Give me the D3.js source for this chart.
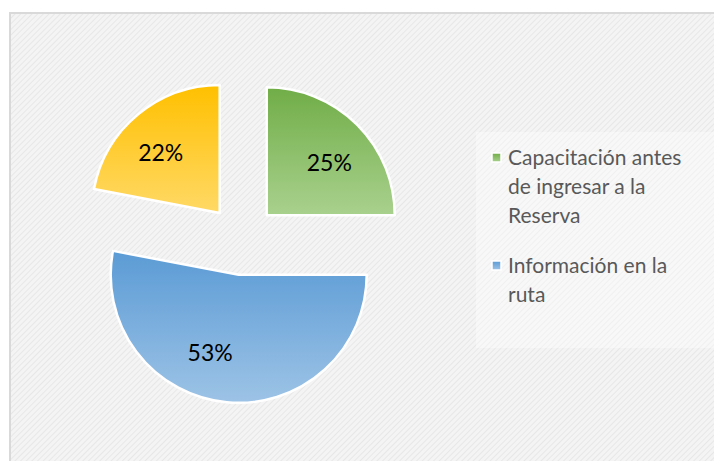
<!DOCTYPE html>
<html lang="es">
<head>
<meta charset="UTF-8">
<title>Pie chart</title>
<script src="https://d3js.org/d3.v7.min.js"></script>
<style>
  body { margin: 0; background: #fff; font-family: Lato, "Open Sans", sans-serif; }
</style>
</head>
<body>
<div id="chart"></div>
<script>
  // data
  const categories = ["Capacitación antes de ingresar a la Reserva", "Información en la ruta", "Otros"];
  const values = [25, 53, 22];
  const legendLines = [["Capacitación antes", "de ingresar a la", "Reserva"], ["Información en la", "ruta"]];
  const topColors = ["#70ad47", "#5b9bd5", "#ffc000"];
  const bottomColors = ["#a9d18e", "#9dc3e6", "#ffd966"];

  const W = 714, H = 461;
  const cx = 242, cy = 240, radius = 128, explode = 35;

  const svg = d3.select("#chart").append("svg")
    .attr("width", W).attr("height", H);

  const defs = svg.append("defs");

  // hatched background
  const pat = defs.append("pattern")
    .attr("id", "hatch")
    .attr("patternUnits", "userSpaceOnUse")
    .attr("width", 4).attr("height", 4)
    .attr("patternTransform", "rotate(45)");
  pat.append("rect").attr("width", 4).attr("height", 4).attr("fill", "#f4f4f4");
  pat.append("line").attr("x1", 0).attr("y1", 0).attr("x2", 0).attr("y2", 4)
    .attr("stroke", "#e4e4e4").attr("stroke-width", 1.6);

  const pat2 = defs.append("pattern")
    .attr("id", "hatch2")
    .attr("patternUnits", "userSpaceOnUse")
    .attr("width", 4).attr("height", 4)
    .attr("patternTransform", "rotate(45)");
  pat2.append("rect").attr("width", 4).attr("height", 4).attr("fill", "#f8f8f8");
  pat2.append("line").attr("x1", 0).attr("y1", 0).attr("x2", 0).attr("y2", 4)
    .attr("stroke", "#efefef").attr("stroke-width", 1.6);

  topColors.forEach((c, i) => {
    const g = defs.append("linearGradient")
      .attr("id", "grad" + i)
      .attr("x1", 0).attr("y1", 0).attr("x2", 0).attr("y2", 1);
    g.append("stop").attr("offset", "0%").attr("stop-color", c);
    g.append("stop").attr("offset", "100%").attr("stop-color", bottomColors[i]);
  });

  // chart area
  svg.append("rect")
    .attr("x", 10).attr("y", 13)
    .attr("width", W).attr("height", H)
    .attr("fill", "url(#hatch)")
    .attr("stroke", "#d9d9d9").attr("stroke-width", 2);

  // legend box
  svg.append("rect")
    .attr("x", 476).attr("y", 132)
    .attr("width", 250).attr("height", 216)
    .attr("fill", "url(#hatch2)");

  const pie = d3.pie().sort(null).value(d => d);
  const arcs = pie(values);
  const arc = d3.arc().innerRadius(0).outerRadius(radius);
  const labelArc = d3.arc().innerRadius(80).outerRadius(80);
  const labelShift = [[6, 4], [-21, -2], [-8, 2]];

  const slices = svg.append("g")
    .attr("transform", `translate(${cx},${cy})`)
    .selectAll("g")
    .data(arcs)
    .join("g")
    .attr("transform", d => {
      const a = (d.startAngle + d.endAngle) / 2;
      return `translate(${Math.sin(a) * explode},${-Math.cos(a) * explode})`;
    });

  slices.append("path")
    .attr("d", arc)
    .attr("fill", (d, i) => `url(#grad${i})`)
    .attr("stroke", "#fff")
    .attr("stroke-width", 2.5)
    .attr("stroke-linejoin", "round");

  slices.append("text")
    .attr("transform", (d, i) => {
      const [x, y] = labelArc.centroid(d);
      return `translate(${x + labelShift[i][0]},${y + labelShift[i][1]})`;
    })
    .attr("text-anchor", "middle")
    .attr("dy", "0.35em")
    .style("font-size", "23px")
    .attr("fill", "#000")
    .text(d => d.value + "%");

  // legend (first two series only, as in the original)
  const legend = svg.append("g").attr("transform", "translate(492,0)");
  const legendY = [165, 273];
  const lineH = 29;

  legendLines.forEach((lines, i) => {
    legend.append("rect")
      .attr("x", 0).attr("y", legendY[i] - 12)
      .attr("width", 9).attr("height", 9)
      .attr("fill", `url(#grad${i})`)
      .attr("stroke", "#fff").attr("stroke-width", 1.5);
    const t = legend.append("text")
      .attr("x", 16).attr("y", legendY[i])
      .attr("fill", "#595959")
      .style("font-size", "21px");
    lines.forEach((ln, j) => {
      t.append("tspan").attr("x", 16).attr("y", legendY[i] + j * lineH).text(ln);
    });
  });
</script>
</body>
</html>
